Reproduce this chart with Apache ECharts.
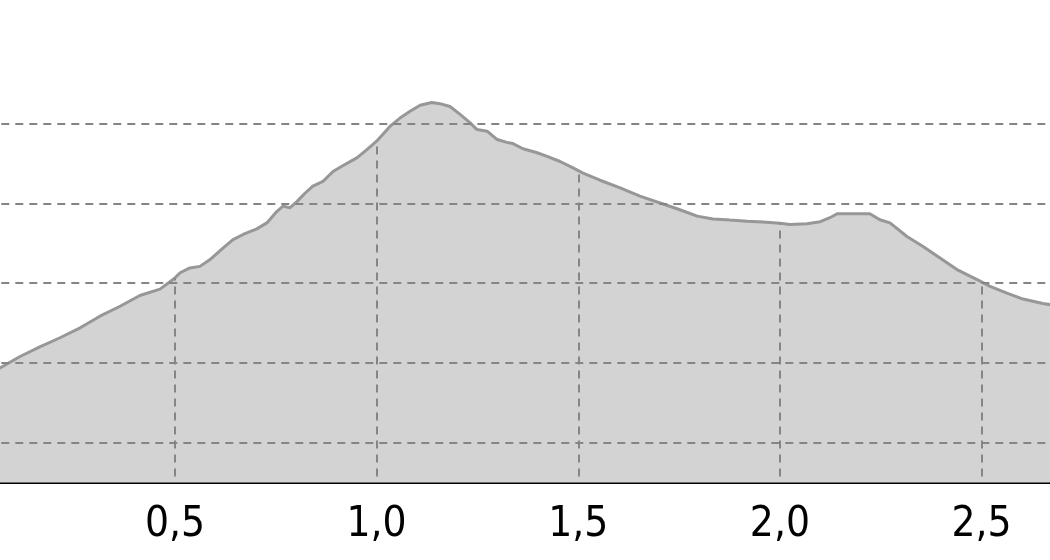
<!DOCTYPE html>
<html><head><meta charset="utf-8">
<script src="https://cdn.jsdelivr.net/npm/echarts@6/dist/echarts.min.js"></script>
<style>html,body{margin:0;padding:0;background:#fff}#c{width:1050px;height:560px}</style>
</head><body><div id="c"></div>
<script>
// Distance along the route (km)
const distanceKm = [0, 0.066, 0.116, 0.165, 0.215, 0.265, 0.314, 0.364, 0.413, 0.463,
  0.5, 0.513, 0.537, 0.562, 0.587, 0.619, 0.644, 0.669, 0.703, 0.728,
  0.753, 0.768, 0.785, 0.803, 0.823, 0.842, 0.867, 0.892, 0.917, 0.951,
  0.976, 1.0, 1.033, 1.058, 1.083, 1.108, 1.137, 1.157, 1.182, 1.207,
  1.232, 1.249, 1.274, 1.299, 1.323, 1.338, 1.363, 1.398, 1.423, 1.455,
  1.487, 1.5, 1.512, 1.554, 1.604, 1.653, 1.703, 1.752, 1.795, 1.834,
  1.876, 1.919, 1.958, 2.0, 2.025, 2.067, 2.100, 2.124, 2.142, 2.223,
  2.248, 2.273, 2.315, 2.355, 2.397, 2.439, 2.489, 2.5, 2.521, 2.563,
  2.603, 2.652, 2.670, 2.700];
// Elevation (m)
const elevation = [214.9, 218.7, 221.6, 224.0, 226.3, 228.8, 231.7, 234.2, 236.9, 238.5,
  241.3, 242.6, 243.8, 244.2, 245.9, 248.8, 250.9, 252.2, 253.6, 255.1,
  258.0, 259.3, 258.9, 260.5, 262.6, 264.3, 265.5, 268.0, 269.5, 271.4,
  273.5, 275.6, 279.3, 281.4, 283.1, 284.6, 285.3, 285.0, 284.3, 282.3,
  280.2, 278.5, 278.1, 276.0, 275.3, 275.0, 273.7, 272.7, 271.8, 270.5,
  268.9, 268.2, 267.6, 265.8, 263.9, 261.8, 260.1, 258.4, 256.8, 256.1,
  255.8, 255.5, 255.3, 255.0, 254.7, 254.9, 255.4, 256.4, 257.4, 257.4,
  255.9, 255.1, 251.7, 249.2, 246.3, 243.4, 240.9, 240.3, 239.2, 237.5,
  236.0, 234.9, 234.6, 234.2];
// Tick values
const xTicks = [0.5, 1.0, 1.5, 2.0, 2.5];
const yGridLines = [200, 220, 240, 260, 280];
const yMin = 190, yMax = 311;

const dashStyle = { type: [8, 6], color: '#858585', width: 2 };
const hLines = yGridLines.map(v => ({ yAxis: v, lineStyle: dashStyle }));
const vLines = xTicks.map(x => [
  { coord: [x, yMin], lineStyle: Object.assign({}, dashStyle, { dashOffset: 8 }) },
  { coord: [x, elevation[distanceKm.indexOf(x)]] }
]);

const chart = echarts.init(document.getElementById('c'), null, { renderer: 'canvas' });
chart.setOption({
  animation: false,
  backgroundColor: '#ffffff',
  grid: { left: -26.7, right: -133.2, top: 0, bottom: 77.5, containLabel: false, outerBoundsMode: 'none' },
  xAxis: {
    type: 'value', min: 0, max: 3, interval: 0.5,
    axisLine: { show: true, onZero: false, lineStyle: { color: '#000', width: 3 } },
    axisTick: { show: false },
    splitLine: { show: false },
    axisLabel: {
      margin: 22, color: '#000', fontSize: 42,
      showMinLabel: false, showMaxLabel: false,
      fontFamily: "'DejaVu Sans Condensed', 'DejaVu Sans', sans-serif",
      formatter: v => v.toFixed(1).replace('.', ',')
    }
  },
  yAxis: {
    type: 'value', min: yMin, max: yMax, show: false,
    splitLine: { show: false }
  },
  series: [{
    type: 'line',
    data: distanceKm.map((d, i) => [d, elevation[i]]),
    symbol: 'none', showSymbol: false, smooth: false,
    lineStyle: { color: '#979797', width: 3 },
    areaStyle: { color: '#d3d3d3', opacity: 1 },
    markLine: {
      silent: true, symbol: ['none', 'none'], animation: false,
      label: { show: false },
      emphasis: { disabled: true },
      data: hLines.concat(vLines)
    }
  }]
});
</script></body></html>
